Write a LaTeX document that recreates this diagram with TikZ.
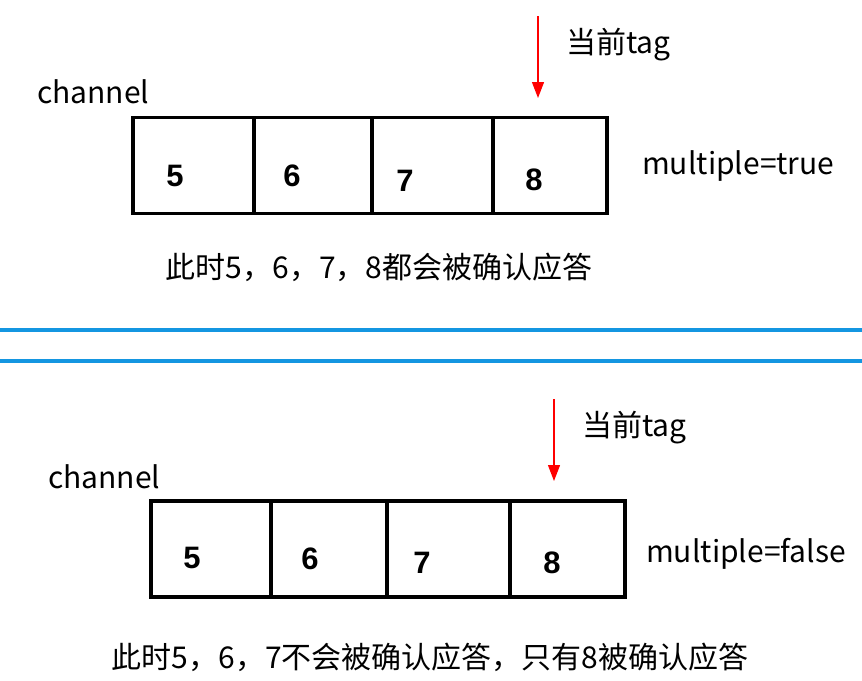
\documentclass[tikz,border=0pt]{standalone}
\usepackage{fontspec}
\setmainfont{Noto Sans CJK SC}
\newfontfamily\digitfont{Liberation Sans}
\usepackage{tikz}
\usetikzlibrary{arrows.meta, positioning}
\definecolor{sepblue}{RGB}{20,150,225}

\begin{document}
\begin{tikzpicture}[x=1pt, y=-1pt,
    cell/.style={draw, line width=3.4pt, minimum width=#1, minimum height=96pt, inner sep=0pt},
    digit/.style={font=\digitfont\bfseries\fontsize{31}{31}\selectfont},
    txt/.style={font=\fontsize{30}{30}\selectfont, inner sep=0pt},
    tagarrow/.style={red, line width=1.3pt, -{Triangle[length=16pt, width=12pt]}},
    sep/.style={sepblue, line width=4pt},
]
\useasboundingbox (0,0) rectangle (862,680);
% Top - multiple=true
\node[txt, anchor=west] (chA) at (37,92) {channel};
\node[cell=121pt] (a1) at (193.5,165.5) {};
\node[cell=118pt] (a2) at (313,165.5) {};
\node[cell=121pt] (a3) at (432.5,165.5) {};
\node[cell=114pt] (a4) at (550,165.5) {};
\node[digit] (d5A) at (175,176) {5};
\node[digit] (d6A) at (292,176) {6};
\node[digit] (d7A) at (405,181) {7};
\node[digit] (d8A) at (534,180) {8};
\coordinate (tagA) at (538,16);
\coordinate (tipA) at (538,98);
\draw[tagarrow] (tagA) -- (tipA);
\node[txt, anchor=west] (curA) at (566,45) {当前tag};
\node[txt, anchor=west] (mulA) at (642,166) {multiple=true};
\node[txt] (capA) at (379,267) {此时5，6，7，8都会被确认应答};
% separator
\coordinate (s1l) at (0,330);
\coordinate (s1r) at (862,330);
\coordinate (s2l) at (0,361);
\coordinate (s2r) at (862,361);
\draw[sep] (s1l) -- (s1r);
\draw[sep] (s2l) -- (s2r);
% Bottom - multiple=false
\node[txt, anchor=west] (chB) at (48,477) {channel};
\node[cell=120pt] (b1) at (211,549) {};
\node[cell=116pt] (b2) at (329,549) {};
\node[cell=123pt] (b3) at (448.5,549) {};
\node[cell=115pt] (b4) at (567.5,549) {};
\node[digit] (d5B) at (192,558) {5};
\node[digit] (d6B) at (310,559) {6};
\node[digit] (d7B) at (422,563) {7};
\node[digit] (d8B) at (552,563) {8};
\coordinate (tagB) at (554,399);
\coordinate (tipB) at (554,481);
\draw[tagarrow] (tagB) -- (tipB);
\node[txt, anchor=west] (curB) at (582,428) {当前tag};
\node[txt, anchor=west] (mulB) at (646,554) {multiple=false};
\node[txt] (capB) at (430,657) {此时5，6，7不会被确认应答，只有8被确认应答};
\end{tikzpicture}
\end{document}
